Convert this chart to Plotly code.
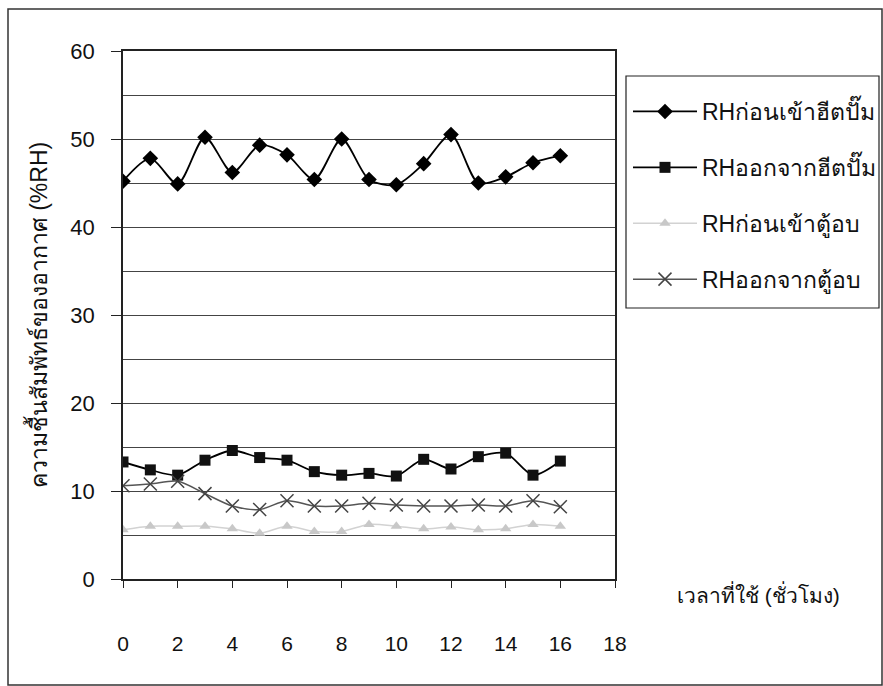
import plotly.graph_objects as go

# ---- data ----
hours = list(range(17))
rh_in_heatpump = [45.2, 47.8, 44.9, 50.2, 46.2, 49.3, 48.2, 45.4, 50.0, 45.4,
                  44.8, 47.2, 50.5, 45.0, 45.7, 47.3, 48.1]
rh_out_heatpump = [13.3, 12.4, 11.8, 13.5, 14.6, 13.8, 13.5, 12.2, 11.8, 12.0,
                   11.7, 13.6, 12.5, 13.9, 14.3, 11.8, 13.4]
rh_in_dryer = [5.6, 6.0, 6.0, 6.0, 5.7, 5.2, 6.0, 5.4, 5.4, 6.2,
               6.0, 5.7, 5.9, 5.6, 5.7, 6.2, 6.0]
rh_out_dryer = [10.6, 10.8, 11.1, 9.7, 8.3, 7.9, 8.9, 8.3, 8.3, 8.6,
                8.4, 8.3, 8.3, 8.4, 8.3, 8.9, 8.2]

series_names = ["RHก่อนเข้าฮีตปั๊ม", "RHออกจากฮีตปั๊ม", "RHก่อนเข้าตู้อบ", "RHออกจากตู้อบ"]
x_tick_values = list(range(0, 19, 2))
y_tick_values = list(range(0, 61, 10))
y_title = "ความชื้นสัมพัทธ์ของอากาศ (%RH)"
x_title = "เวลาที่ใช้ (ชั่วโมง)"

# ---- layout geometry (pixels) ----
W, H = 883, 686
L, R, T, B = 123, 615, 51, 579


def px(x):
    return (x - L) / (R - L)


def py(y):
    return (B - y) / (B - T)


FONT = "Liberation Sans, Arial, sans-serif"
INK = "#111111"

fig = go.Figure()
fig.add_trace(go.Scatter(
    x=hours, y=rh_in_heatpump, name=series_names[0], legendgroup="g1",
    mode="lines+markers",
    line=dict(color="black", width=1.8, shape="spline", smoothing=0.8),
    marker=dict(symbol="diamond", size=12, color="black")))
fig.add_trace(go.Scatter(
    x=hours, y=rh_out_heatpump, name=series_names[1], legendgroup="g2",
    mode="lines+markers",
    line=dict(color="black", width=1.8, shape="spline", smoothing=0.8),
    marker=dict(symbol="square", size=11, color="#111111")))
fig.add_trace(go.Scatter(
    x=hours, y=rh_in_dryer, name=series_names[2], legendgroup="g3",
    mode="lines+markers",
    line=dict(color="#d2d2d2", width=1.5, shape="spline", smoothing=0.8),
    marker=dict(symbol="triangle-up", size=10, color="#c8c8c8")))
fig.add_trace(go.Scatter(
    x=hours, y=rh_out_dryer, name=series_names[3], legendgroup="g4",
    mode="lines+markers",
    line=dict(color="#555555", width=1.5, shape="spline", smoothing=0.8),
    marker=dict(symbol="x-thin", size=13, color="#444444",
                line=dict(color="#444444", width=1.5))))

fig.update_layout(
    width=W, height=H,
    margin=dict(l=L, r=W - R, t=T, b=H - B, autoexpand=False),
    paper_bgcolor="white", plot_bgcolor="white",
    font=dict(family=FONT, size=22, color=INK),
    showlegend=True,
    legend=dict(
        x=px(628), xanchor="left", y=py(90), yanchor="top",
        borderwidth=0, bgcolor="rgba(0,0,0,0)",
        font=dict(family=FONT, size=23, color=INK),
        tracegroupgap=23, itemwidth=64,
    ),
    shapes=[
        dict(type="rect", xref="paper", yref="paper",
             x0=px(8), x1=px(882), y0=py(685), y1=py(9),
             line=dict(color="#333333", width=1.5), layer="below"),
        dict(type="rect", xref="paper", yref="paper",
             x0=px(626), x1=px(879), y0=py(308), y1=py(76),
             line=dict(color="#222222", width=1.2), fillcolor="white", layer="below"),
    ],
    annotations=[dict(text=x_title, xref="paper", yref="paper",
                      x=px(758), y=py(594), xanchor="center", yanchor="middle",
                      showarrow=False, font=dict(family=FONT, size=21, color=INK))],
)

fig.update_xaxes(
    range=[0, 18], tickmode="array", tickvals=x_tick_values,
    ticks="outside", ticklen=7, tickwidth=1, tickcolor="#222222",
    showline=True, linecolor="#222222", linewidth=1.5, mirror=True,
    showgrid=False, zeroline=False, ticklabelstandoff=38,
    tickfont=dict(family=FONT, size=21, color=INK),
)
fig.update_yaxes(
    range=[0, 60], tickmode="array", tickvals=y_tick_values,
    ticks="outside", ticklen=10, tickwidth=1, tickcolor="#222222",
    showline=True, linecolor="#222222", linewidth=1.5, mirror=True,
    showgrid=True, gridcolor="#444444", gridwidth=1, zeroline=False,
    minor=dict(tickmode="linear", tick0=0, dtick=5, showgrid=True,
               gridcolor="#444444", gridwidth=1, ticks=""),
    ticklabelstandoff=12,
    tickfont=dict(family=FONT, size=22, color=INK),
    title=dict(text=y_title, standoff=16, font=dict(family=FONT, size=23, color=INK)),
)

fig.write_html("out.html")
